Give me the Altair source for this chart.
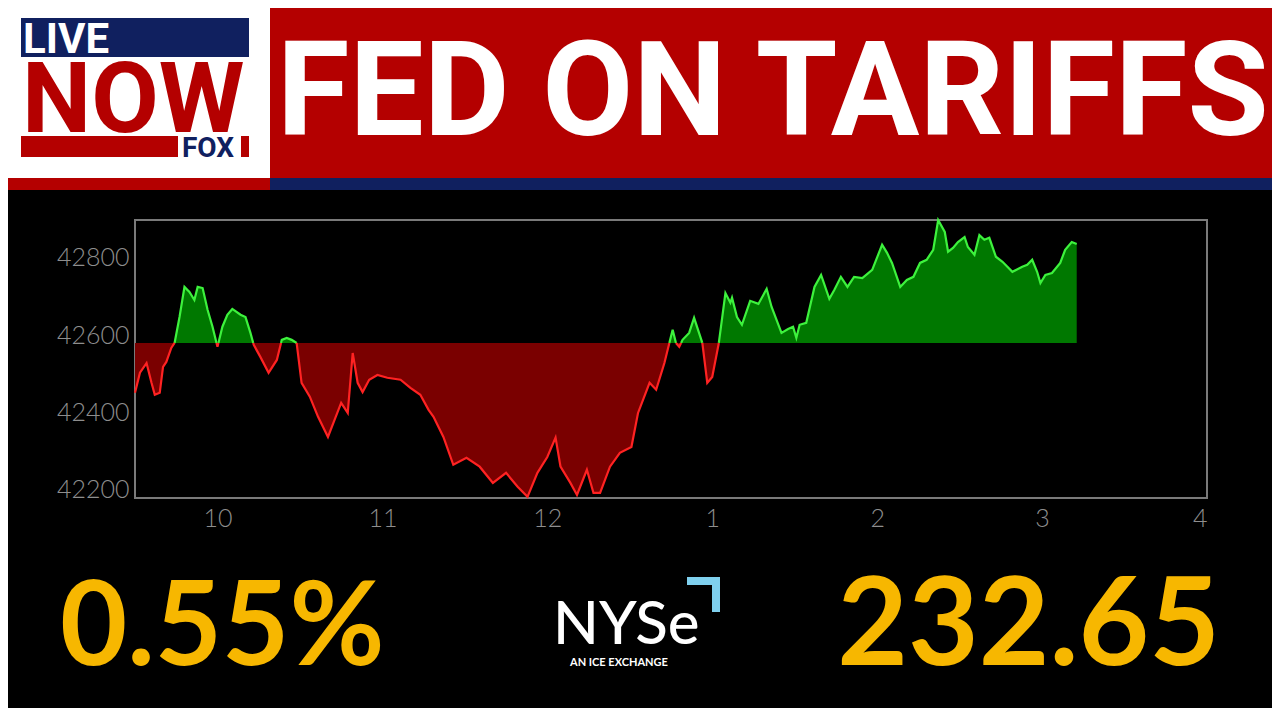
import altair as alt
import pandas as pd

# intraday index trace: hour of day (24h, decimal) and level
hours = [9.50, 9.53, 9.57, 9.60, 9.62, 9.65, 9.67, 9.69, 9.72, 9.74,
         9.77, 9.80, 9.83, 9.86, 9.88, 9.91, 9.94, 9.97, 10.00, 10.03,
         10.06, 10.09, 10.14, 10.17, 10.20, 10.22, 10.26, 10.31, 10.36, 10.39,
         10.42, 10.45, 10.48, 10.51, 10.56, 10.61, 10.67, 10.71, 10.75, 10.79,
         10.82, 10.85, 10.88, 10.92, 10.97, 11.03, 11.11, 11.17, 11.23, 11.28,
         11.31, 11.37, 11.43, 11.51, 11.59, 11.67, 11.75, 11.82, 11.88, 11.94,
         12.00, 12.05, 12.08, 12.14, 12.18, 12.24, 12.28, 12.32, 12.38, 12.44,
         12.51, 12.55, 12.62, 12.66, 12.71, 12.74, 12.76, 12.78, 12.80, 12.82,
         12.86, 12.89, 12.94, 12.97, 13.00, 13.04, 13.08, 13.11, 13.12, 13.15,
         13.18, 13.23, 13.28, 13.33, 13.36, 13.42, 13.46, 13.49, 13.51, 13.53,
         13.57, 13.62, 13.66, 13.71, 13.74, 13.78, 13.82, 13.86, 13.91, 13.97,
         14.03, 14.06, 14.09, 14.14, 14.18, 14.22, 14.26, 14.30, 14.34, 14.37,
         14.41, 14.43, 14.46, 14.49, 14.53, 14.55, 14.59, 14.62, 14.65, 14.68,
         14.72, 14.76, 14.82, 14.88, 14.91, 14.94, 14.97, 14.99, 15.02, 15.06,
         15.11, 15.14, 15.18, 15.21]
prices = [42451, 42503, 42528, 42477, 42446, 42451, 42518, 42531, 42567, 42580,
          42647, 42725, 42712, 42691, 42725, 42722, 42666, 42622, 42570, 42622,
          42653, 42668, 42653, 42647, 42606, 42575, 42544, 42503, 42536, 42588,
          42593, 42588, 42580, 42477, 42441, 42389, 42337, 42381, 42425, 42399,
          42554, 42477, 42453, 42485, 42497, 42490, 42485, 42464, 42446, 42407,
          42389, 42337, 42265, 42283, 42260, 42218, 42244, 42208, 42182, 42244,
          42285, 42335, 42260, 42218, 42187, 42252, 42192, 42192, 42260, 42296,
          42311, 42399, 42477, 42459, 42528, 42580, 42614, 42580, 42570, 42588,
          42606, 42645, 42580, 42477, 42492, 42580, 42709, 42684, 42697, 42647,
          42627, 42689, 42681, 42720, 42673, 42606, 42616, 42622, 42593, 42627,
          42632, 42725, 42756, 42694, 42717, 42751, 42725, 42751, 42748, 42769,
          42834, 42813, 42787, 42725, 42743, 42751, 42787, 42795, 42821, 42898,
          42867, 42816, 42826, 42841, 42854, 42828, 42808, 42859, 42847, 42852,
          42803, 42790, 42764, 42777, 42782, 42795, 42764, 42735, 42756, 42761,
          42787, 42821, 42841, 42836]
prev_close = 42580

tick_hours = [10, 11, 12, 13, 14, 15, 16]
price_ticks = [42200, 42400, 42600, 42800]

headline = "FED ON TARIFFS"
pct_change = "0.55%"
pt_change = "232.65"

# page position of the plot's top-left corner (8px page margin + padding)
X0, Y0 = 135, 220

RED = "#b40000"
NAVY = "#10205f"

# split the trace into runs above / below the previous close
rows = []
seg = 0
for i in range(len(hours)):
    h, p = hours[i], prices[i]
    side = "up" if p >= prev_close else "down"
    if i > 0:
        h0, p0 = hours[i - 1], prices[i - 1]
        side0 = "up" if p0 >= prev_close else "down"
        if side != side0:
            hc = h0 + (h - h0) * (prev_close - p0) / (p - p0)
            rows.append({"hour": hc, "price": prev_close, "side": side0, "seg": seg})
            seg += 1
            rows.append({"hour": hc, "price": prev_close, "side": side, "seg": seg})
    rows.append({"hour": h, "price": p, "side": side, "seg": seg})
df = pd.DataFrame(rows)
df["prev"] = prev_close

x_enc = alt.X("hour:Q",
              scale=alt.Scale(domain=[9.5, 16], nice=False, zero=False),
              axis=alt.Axis(values=tick_hours, title=None,
                            labelExpr="datum.value > 12 ? datum.value - 12 : datum.value"))
y_enc = alt.Y("price:Q", stack=None,
              scale=alt.Scale(domain=[42179, 42898], nice=False, zero=False),
              axis=alt.Axis(values=price_ticks, format="d", title=None))

layers = []
for side, fill, stroke in [("up", "#007800", "#3df23d"), ("down", "#7a0000", "#ff2222")]:
    base = alt.Chart(df).transform_filter(alt.datum.side == side)
    layers.append(base.mark_area(color=fill).encode(x_enc, y_enc, y2="prev:Q", detail="seg:N"))
    layers.append(base.mark_line(color=stroke, strokeWidth=2.2).encode(x_enc, y_enc, detail="seg:N"))

one = pd.DataFrame({"k": [0]})


def box(x1, x2, y1, y2, color):
    return alt.Chart(one).mark_rect(color=color).encode(
        x=alt.value(x1 - X0), x2=alt.value(x2 - X0),
        y=alt.value(y1 - Y0), y2=alt.value(y2 - Y0))


def caption(text, x, y, size, color, font="Lato", weight="normal", align="left"):
    return alt.Chart(one).mark_text(
        text=text, font=font, fontSize=size, fontWeight=weight, color=color,
        align=align, baseline="alphabetic").encode(x=alt.value(x - X0), y=alt.value(y - Y0))


decor = [
    # header
    box(0, 270, 0, 178, "white"),
    box(270, 1290, 0, 178, RED),
    box(0, 270, 178, 190, RED),
    box(270, 1290, 178, 190, NAVY),
    box(21, 249, 18, 57, NAVY),
    box(21, 178, 136, 157, RED),
    box(241, 249, 136, 157, RED),
    caption("LIVE", 23, 53, 42, "white", font="Roboto", weight="bold"),
    caption("NOW", 22, 132, 98, RED, font="Roboto", weight="bold"),
    caption("FOX", 182, 157, 28, NAVY, font="Roboto", weight="bold"),
    caption(headline, 277, 135, 132, "white", font="Roboto", weight="bold"),
    # bottom strip
    caption(pct_change, 60, 665, 116, "#f7b700", weight="bold"),
    caption(pt_change, 1220, 665, 122, "#f7b700", weight="bold", align="right"),
    caption("NYSe", 553, 644, 60, "white", weight=500),
    caption("AN ICE EXCHANGE", 570, 666, 11, "white", weight="bold"),
    box(687, 720, 577, 585, "#7fd0ee"),
    box(712, 720, 577, 612, "#7fd0ee"),
]

chart = alt.layer(*layers, *decor).properties(
    width=1072, height=278,
    padding={"left": 127, "top": 212, "right": 65, "bottom": 210},
    autosize=alt.AutoSizeParams(type="none"),
    background="black",
).configure_view(
    fill="black", stroke="#7a7a7a", strokeWidth=2
).configure_axis(
    labelFont="Lato", labelFontWeight=300, labelFontSize=25, labelColor="#8e8e8e",
    ticks=False, domain=False, grid=False
).configure_axisX(labelPadding=8).configure_axisY(labelPadding=6)

chart.save("out.html", embed_options={"renderer": "svg", "actions": False})
